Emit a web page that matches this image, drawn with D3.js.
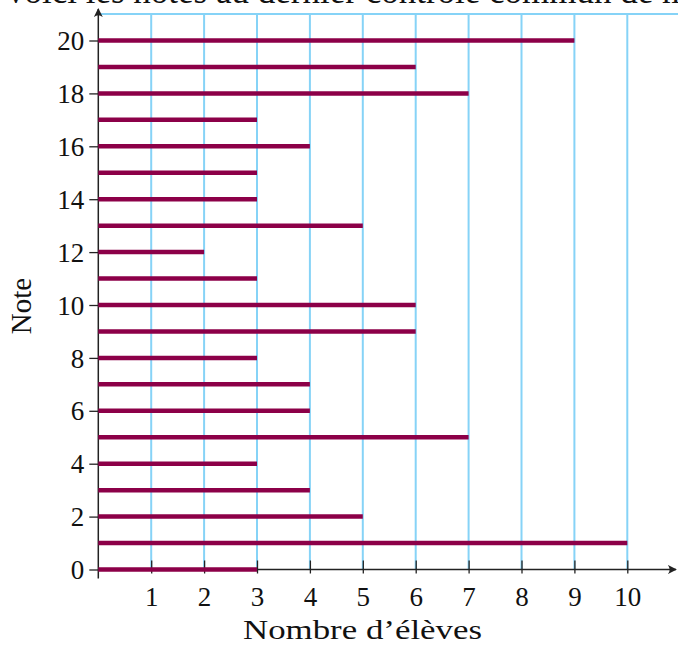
<!DOCTYPE html>
<html>
<head>
<meta charset="utf-8">
<script src="https://cdn.jsdelivr.net/npm/d3@7"></script>
<style>
  body { margin: 0; background: #fff; }
  svg { display: block; }
  text { font-family: "Liberation Serif", "DejaVu Serif", serif; fill: #111; }
</style>
</head>
<body>
<div id="chart"></div>
<script>
// notes (axe vertical) et nombre d'eleves (longueur des barres)
const notes = [0, 1, 2, 3, 4, 5, 6, 7, 8, 9, 10, 11, 12, 13, 14, 15, 16, 17, 18, 19, 20];
const effectifs = [3, 10, 5, 4, 3, 7, 4, 4, 3, 6, 6, 3, 2, 5, 3, 3, 4, 3, 7, 6, 9];
const xTicks = [1, 2, 3, 4, 5, 6, 7, 8, 9, 10];
const yTicks = [0, 2, 4, 6, 8, 10, 12, 14, 16, 18, 20];
const gridX = [1, 2, 3, 4, 5, 6, 7, 8, 9, 10, 11];

const width = 678;
const height = 648;

const svg = d3.select('#chart').append('svg')
  .attr('width', width)
  .attr('height', height);

const x = d3.scaleLinear().domain([0, 10]).range([98.3, 627.3]);
const y = d3.scaleLinear().domain([0, 20]).range([569.5, 40.5]);

const gridColor = '#86d3f7';
const barColor = '#8c0048';
const gridTop = 14;

// titre coupe en haut de l'image (comme dans l'original)
svg.append('text')
  .attr('x', 7)
  .attr('y', 3)
  .style('font-size', '35px')
  .text('voici les notes au dernier contrôle commun de mathématiques');

// quadrillage vertical
svg.append('g')
  .selectAll('line')
  .data(gridX)
  .enter()
  .append('line')
  .attr('x1', d => x(d))
  .attr('x2', d => x(d))
  .attr('y1', gridTop)
  .attr('y2', y(0))
  .attr('stroke', gridColor)
  .attr('stroke-width', 2);

svg.append('line')
  .attr('x1', x(0))
  .attr('x2', width)
  .attr('y1', gridTop)
  .attr('y2', gridTop)
  .attr('stroke', gridColor)
  .attr('stroke-width', 2);

// axe des x
const xAxis = svg.append('g')
  .attr('transform', `translate(0,${y(0)})`)
  .call(d3.axisBottom(x).tickValues(xTicks).tickSizeOuter(0).tickPadding(11));
xAxis.select('.domain').remove();
xAxis.selectAll('.tick line')
  .attr('y1', -9)
  .attr('y2', 4)
  .attr('stroke', '#222')
  .attr('stroke-width', 1.3);
xAxis.selectAll('.tick text')
  .style('font-size', '27px')
  .attr('font-family', null)
  .attr('fill', '#111');

// axe des y
const yAxis = svg.append('g')
  .attr('transform', `translate(${x(0)},0)`)
  .call(d3.axisLeft(y).tickValues(yTicks).tickSizeInner(9).tickSizeOuter(0).tickPadding(5));
yAxis.select('.domain').remove();
yAxis.selectAll('.tick line')
  .attr('stroke', '#222')
  .attr('stroke-width', 1.3);
yAxis.selectAll('.tick text')
  .style('font-size', '27px')
  .attr('dy', '0.34em')
  .attr('font-family', null)
  .attr('fill', '#111');

// lignes des axes avec fleches
svg.append('defs').append('marker')
  .attr('id', 'arrow')
  .attr('viewBox', '0 0 10 10')
  .attr('refX', 9)
  .attr('refY', 5)
  .attr('markerWidth', 9)
  .attr('markerHeight', 9)
  .attr('markerUnits', 'userSpaceOnUse')
  .attr('orient', 'auto')
  .append('path')
  .attr('d', 'M0,0 Q4,5 0,10 L10,5 Z')
  .attr('fill', '#222');

svg.append('line')
  .attr('x1', x(0))
  .attr('x2', 676)
  .attr('y1', y(0))
  .attr('y2', y(0))
  .attr('stroke', '#222')
  .attr('stroke-width', 1.5)
  .attr('marker-end', 'url(#arrow)');

svg.append('line')
  .attr('x1', x(0))
  .attr('x2', x(0))
  .attr('y1', y(0) + 9)
  .attr('y2', 9)
  .attr('stroke', '#222')
  .attr('stroke-width', 1.5)
  .attr('marker-end', 'url(#arrow)');

// barres
svg.append('g')
  .selectAll('line')
  .data(notes)
  .enter()
  .append('line')
  .attr('x1', x(0))
  .attr('x2', (d, i) => x(effectifs[i]))
  .attr('y1', d => y(d))
  .attr('y2', d => y(d))
  .attr('stroke', barColor)
  .attr('stroke-width', 4.5);

// titres des axes
svg.append('text')
  .attr('x', 243)
  .attr('y', 639)
  .attr('textLength', 239)
  .attr('lengthAdjust', 'spacingAndGlyphs')
  .style('font-size', '28px')
  .text('Nombre d’élèves');

svg.append('text')
  .attr('transform', 'translate(31,306) rotate(-90)')
  .attr('text-anchor', 'middle')
  .style('font-size', '29px')
  .text('Note');
</script>
</body>
</html>
